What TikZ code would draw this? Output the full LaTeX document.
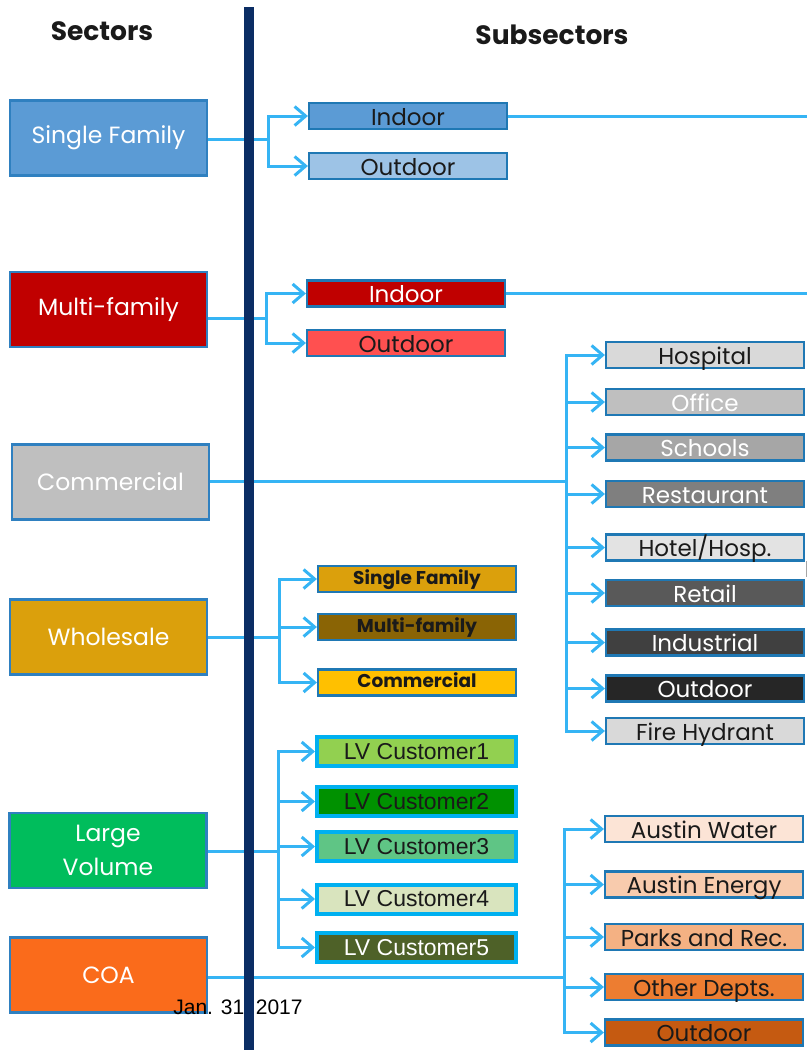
\documentclass[tikz,border=0pt]{standalone}
\usepackage{fontspec}
\setmainfont{Poppins}
\newfontfamily\arialf{Liberation Sans}
\usetikzlibrary{arrows.meta}
\definecolor{barc}{HTML}{0B2D64}
\definecolor{linkc}{HTML}{35B4F4}
\definecolor{secb}{HTML}{2F80C0}
\definecolor{subb}{HTML}{1F78B4}
\definecolor{lvb}{HTML}{00B0F0}
\definecolor{cSF}{HTML}{5B9BD5}
\definecolor{cSFo}{HTML}{9DC3E6}
\definecolor{cMF}{HTML}{C00000}
\definecolor{cMFo}{HTML}{FF5050}
\definecolor{cCom}{HTML}{BFBFBF}
\definecolor{cWS}{HTML}{DBA00C}
\definecolor{cLV}{HTML}{00BD5C}
\definecolor{cCOA}{HTML}{FA6B1B}
\definecolor{cHosp}{HTML}{D9D9D9}
\definecolor{cOff}{HTML}{BFBFBF}
\definecolor{cSch}{HTML}{A6A6A6}
\definecolor{cRes}{HTML}{7F7F7F}
\definecolor{cHot}{HTML}{E3E3E3}
\definecolor{cRet}{HTML}{595959}
\definecolor{cInd}{HTML}{404040}
\definecolor{cOut}{HTML}{262626}
\definecolor{cFire}{HTML}{D9D9D9}
\definecolor{cWsMF}{HTML}{8A6405}
\definecolor{cWsCom}{HTML}{FFC000}
\definecolor{cLVa}{HTML}{92D050}
\definecolor{cLVb}{HTML}{009100}
\definecolor{cLVc}{HTML}{5FC585}
\definecolor{cLVd}{HTML}{D9E4BE}
\definecolor{cLVe}{HTML}{4E6128}
\definecolor{cAW}{HTML}{FCE4D6}
\definecolor{cAE}{HTML}{F8CBAD}
\definecolor{cPR}{HTML}{F4B183}
\definecolor{cOD}{HTML}{ED7D31}
\definecolor{cCO}{HTML}{C55A11}
\definecolor{darktxt}{HTML}{1A1A1A}
\begin{document}
\begin{tikzpicture}[x=1pt,y=-1pt,
  header/.style={font=\fontsize{26.5}{30}\selectfont\bfseries, text=darktxt, inner sep=0},
  sector/.style={draw=secb, line width=2.2pt, minimum width=197pt, minimum height=75pt,
    inner sep=0, align=center, text=white, font=\fontsize{23.5}{34}\selectfont},
  sub/.style={draw=subb, line width=2.2pt, minimum width=198pt, minimum height=26pt,
    inner sep=0, text=darktxt, font=\fontsize{23}{24}\selectfont, text height=18pt, text depth=0pt},
  wsub/.style={sub, font=\fontsize{18.5}{20}\selectfont\bfseries, text height=13pt, text depth=3pt},
  lvsub/.style={draw=lvb, line width=4pt, minimum width=199pt, minimum height=29pt,
    inner sep=0, text=darktxt, font=\arialf\fontsize{23}{25}\selectfont},
  link/.style={draw=linkc, line width=3pt},
  arr/.style={link, -{Straight Barb[length=11pt,width=19pt,line width=3pt]}}
]
\useasboundingbox (0,0) rectangle (807,1050);

% headers
\node[header] (hsec) at (102,31) {Sectors};
\node[header] (hsub) at (552,35) {Subsectors};

% sectors
\node[sector, fill=cSF]  (sf)  at (108.5,138)   {Single Family};
\node[sector, fill=cMF]  (mf)  at (108.5,309.5) {Multi-family};
\node[sector, fill=cCom] (com) at (110.5,482)   {Commercial};
\node[sector, fill=cWS]  (ws)  at (108.5,637)   {Wholesale};
\node[sector, fill=cLV]  (lv)  at (108,850.5)   {Large\\Volume};
\node[sector, fill=cCOA] (coa) at (108.5,975)   {COA};

% date
\node[font=\arialf\fontsize{21}{23}\selectfont, inner sep=0] (date) at (238,1008) {Jan. 31, 2017};

% single family subsectors
\node[sub, fill=cSF]  (sfin)  at (408,116) {Indoor};
\node[sub, fill=cSFo] (sfout) at (408,166) {Outdoor};
% multi-family subsectors
\node[sub, fill=cMF, text=white] (mfin)  at (406,293.5) {Indoor};
\node[sub, fill=cMFo]            (mfout) at (406,343)   {Outdoor};
% commercial subsectors
\node[sub, fill=cHosp]             (hosp) at (705,355)   {Hospital};
\node[sub, fill=cOff, text=white]  (off)  at (705,402)   {Office};
\node[sub, fill=cSch, text=white]  (sch)  at (705,447.5) {Schools};
\node[sub, fill=cRes, text=white]  (res)  at (705,494)   {Restaurant};
\node[sub, fill=cHot]              (hot)  at (705,547.5) {Hotel/Hosp.};
\node[sub, fill=cRet, text=white]  (ret)  at (705,593)   {Retail};
\node[sub, fill=cInd, text=white]  (ind)  at (705,642.5) {Industrial};
\node[sub, fill=cOut, text=white]  (cout) at (705,688.5) {Outdoor};
\node[sub, fill=cFire]             (fire) at (705,731)   {Fire Hydrant};
% wholesale subsectors
\node[wsub, fill=cWS]    (wssf)  at (417,579)   {Single Family};
\node[wsub, fill=cWsMF]  (wsmf)  at (417,627)   {Multi-family};
\node[wsub, fill=cWsCom] (wscom) at (417,682.5) {Commercial};
% large volume subsectors
\node[lvsub, fill=cLVa] (lva) at (416.5,751.5) {LV Customer1};
\node[lvsub, fill=cLVb] (lvb) at (416.5,801.5) {LV Customer2};
\node[lvsub, fill=cLVc] (lvc) at (416.5,846.5) {LV Customer3};
\node[lvsub, fill=cLVd] (lvd) at (416.5,899)   {LV Customer4};
\node[lvsub, fill=cLVe, text=white] (lve) at (416.5,947.5) {LV Customer5};
% COA subsectors
\node[sub, fill=cAW] (aw)   at (704,829)    {Austin Water};
\node[sub, fill=cAE] (ae)   at (704,884.5)  {Austin Energy};
\node[sub, fill=cPR] (pr)   at (704,937)    {Parks and Rec.};
\node[sub, fill=cOD] (od)   at (704,987)    {Other Depts.};
\node[sub, fill=cCO] (coao) at (704,1032.5) {Outdoor};

% junctions
\coordinate (jsf)  at (268,139);
\coordinate (jmf)  at (266,318);
\coordinate (jcom) at (566,481);
\coordinate (jws)  at (279,637);
\coordinate (jlv)  at (278,851);
\coordinate (jcoa) at (564,977);
\coordinate (redge) at (807,0);

% connectors
\draw[link] (sf.east |- jsf) -- (jsf);
\draw[arr] (jsf) |- (sfin.west);
\draw[arr] (jsf) |- (sfout.west);
\draw[link] (sfin.east) -- (sfin.east -| redge);

\draw[link] (mf.east |- jmf) -- (jmf);
\draw[arr] (jmf) |- (mfin.west);
\draw[arr] (jmf) |- (mfout.west);
\draw[link] (mfin.east) -- (mfin.east -| redge);

\draw[link] (com.east |- jcom) -- (jcom);
\foreach \n in {hosp,off,sch,res,hot,ret,ind,cout,fire}
  \draw[arr] (jcom) |- (\n.west);

\draw[link] (ws.east |- jws) -- (jws);
\foreach \n in {wssf,wsmf,wscom}
  \draw[arr] (jws) |- (\n.west);

\draw[link] (lv.east |- jlv) -- (jlv);
\foreach \n in {lva,lvb,lvc,lvd,lve}
  \draw[arr] (jlv) |- (\n.west);

\draw[link] (coa.east |- jcoa) -- (jcoa);
\foreach \n in {aw,ae,pr,od,coao}
  \draw[arr] (jcoa) |- (\n.west);

% divider bar
\node[fill=barc, minimum width=10pt, minimum height=1043pt, inner sep=0] (bar) at (249,528.5) {};

% small tick at right edge
\draw[gray!70, line width=1pt] (806,561) -- (806,577);
\end{tikzpicture}
\end{document}
